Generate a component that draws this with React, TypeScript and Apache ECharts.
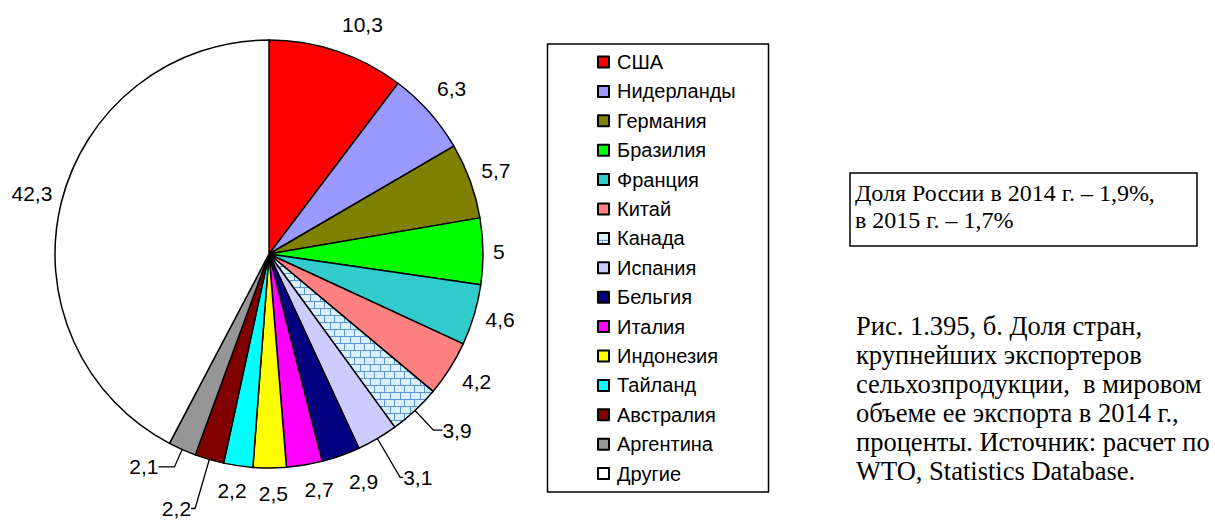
import React, { useEffect, useRef } from "react";
import * as echarts from "echarts";

const categories = ["США", "Нидерланды", "Германия", "Бразилия", "Франция", "Китай", "Канада", "Испания", "Бельгия", "Италия", "Индонезия", "Тайланд", "Австралия", "Аргентина", "Другие"];
const values = [10.3, 6.3, 5.7, 5, 4.6, 4.2, 3.9, 3.1, 2.9, 2.7, 2.5, 2.2, 2.2, 2.1, 42.3];
const colors = ["#ff0000", "#9999ff", "#808000", "#00ff00", "#33cccc", "#ff8080", "PATTERN", "#ccccff", "#000080", "#ff00ff", "#ffff00", "#00ffff", "#800000", "#969696", "#ffffff"];

// label leader settings (layout only): [showLine, length, length2]
const labelTweaks: [boolean, number, number][] = [
  [false, 28, -4],
  [false, 36, -19],
  [false, 30, -17],
  [false, 5, 5],
  [false, 16, -4],
  [false, 24, -8],
  [true, 27, 9],
  [true, 45, 3],
  [false, 27, -1],
  [false, 25, -4],
  [false, 26, -11],
  [false, 25, -12],
  [true, 51, 4],
  [true, 19, 16],
  [false, 38, -28],
];

const boxText = "Доля России в 2014 г. – 1,9%,\nв 2015 г. – 1,7%";
const captionText = "Рис. 1.395, б. Доля стран,\nкрупнейших экспортеров\nсельхозпродукции,  в мировом\nобъеме ее экспорта в 2014 г.,\nпроценты. Источник: расчет по\nWTO, Statistics Database.";

function makeBrick() {
  const c = document.createElement("canvas");
  c.width = 10;
  c.height = 14;
  const g = c.getContext("2d")!;
  g.fillStyle = "#5f93d2";
  g.fillRect(0, 0, 10, 14);
  g.fillStyle = "#d9f1ff";
  g.fillRect(1, 1, 9, 6);
  g.fillRect(0, 8, 4, 6);
  g.fillRect(5, 8, 5, 6);
  return c;
}

export default function App() {
  const ref = useRef<HTMLDivElement>(null);
  useEffect(() => {
    if (!ref.current) return;
    const chart = echarts.init(ref.current, undefined, { renderer: "svg" });
    const brick = makeBrick();
    const pattern: any = { image: brick, repeat: "repeat", imageWidth: 10, imageHeight: 14 };
    const data = categories.map((name, i) => ({
      name,
      value: values[i],
      itemStyle: { color: colors[i] === "PATTERN" ? pattern : colors[i] },
      labelLine: { show: labelTweaks[i][0], length: labelTweaks[i][1], length2: labelTweaks[i][2] },
    }));
    chart.setOption({
      animation: false,
      backgroundColor: "#ffffff",
      legend: {
        orient: "vertical",
        left: 597,
        top: 52,
        padding: 0,
        itemWidth: 11,
        itemHeight: 11,
        itemGap: 9.4,
        icon: "rect",
        selectedMode: false,
        data: categories,
        textStyle: { fontSize: 20, fontFamily: "Liberation Sans", color: "#000", lineHeight: 20, padding: [0, 0, 0, 3] },
      },
      series: [
        {
          type: "pie",
          center: [269, 254],
          radius: 214,
          startAngle: 90,
          clockwise: true,
          avoidLabelOverlap: false,
          data,
          itemStyle: { borderColor: "#000", borderWidth: 1.5 },
          label: {
            show: true,
            position: "outside",
            distanceToLabelLine: 0,
            fontSize: 21,
            fontFamily: "Liberation Sans",
            color: "#000",
            formatter: (p: any) => String(p.value).replace(".", ","),
          },
          labelLine: { lineStyle: { color: "#000", width: 1.3 }, minTurnAngle: 0, maxSurfaceAngle: 180 },
          emphasis: { disabled: true },
        },
      ],
      graphic: [
        {
          type: "rect",
          shape: { x: 547.5, y: 44, width: 221, height: 448 },
          style: { fill: "none", stroke: "#000", lineWidth: 1.5 },
          z: -1,
        },
        {
          type: "rect",
          shape: { x: 850, y: 173, width: 347, height: 73 },
          style: { fill: "#fff", stroke: "#000", lineWidth: 1.5 },
        },
        {
          type: "text",
          x: 855,
          y: 179.5,
          style: { text: boxText, font: "24px 'Liberation Serif'", fill: "#000", lineHeight: 27, verticalAlign: "top" },
        },
        {
          type: "text",
          x: 856,
          y: 311,
          style: { text: captionText, font: "26.5px 'Liberation Serif'", fill: "#000", lineHeight: 29, verticalAlign: "top" },
        },
      ],
    });
    return () => chart.dispose();
  }, []);
  return <div ref={ref} style={{ position: "fixed", left: 0, top: 0, width: 1215, height: 522 }} />;
}
